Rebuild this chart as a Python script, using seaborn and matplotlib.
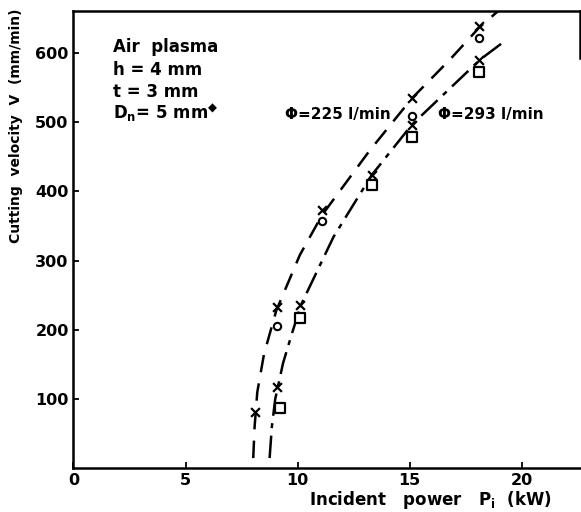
import matplotlib
matplotlib.use("Agg")
import matplotlib.pyplot as plt
import seaborn as sns
import pandas as pd

# Measured points, flow rate 225 l/min
p225_cross = [8.1, 9.1, 11.1, 15.1, 18.1]
v225_cross = [82, 233, 373, 535, 638]
p225_circle = [9.1, 11.1, 15.1, 18.1]
v225_circle = [205, 357, 509, 621]

# Measured points, flow rate 293 l/min
p293_cross = [9.1, 10.1, 13.3, 15.1, 18.1]
v293_cross = [118, 236, 423, 496, 589]
p293_square = [9.2, 10.1, 13.3, 15.1, 18.1]
v293_square = [87, 217, 409, 478, 572]

# Hand-drawn trend curves
curve225_p = [8.02, 8.08, 8.2, 8.5, 9.05, 10.1, 11.1, 13.2, 15.1, 16.8, 18.1, 18.95]
curve225_v = [15, 60, 110, 165, 228, 308, 366, 458, 534, 590, 636, 660]
curve293_p = [8.75, 8.85, 9.0, 9.35, 9.75, 10.15, 11.6, 13.3, 15.1, 18.15, 19.3]
curve293_v = [15, 60, 100, 152, 195, 236, 334, 423, 496, 590, 618]

x_ticks = [0, 5, 10, 15, 20]
y_ticks = [100, 200, 300, 400, 500, 600]

sns.set_theme(style="ticks")
plt.rcParams["font.family"] = ["DejaVu Sans"]
plt.rcParams["font.weight"] = "bold"
plt.rcParams["text.color"] = "black"
plt.rcParams["axes.labelcolor"] = "black"

fig = plt.figure(figsize=(5.81, 5.12), dpi=100)
ax = fig.add_axes([0.1265, 0.085, 0.8718, 0.8936])

c225 = pd.DataFrame({"P": curve225_p, "V": curve225_v})
c293 = pd.DataFrame({"P": curve293_p, "V": curve293_v})
sns.lineplot(data=c225, x="P", y="V", sort=False, estimator=None, ax=ax,
             color="black", linewidth=1.8)
sns.lineplot(data=c293, x="P", y="V", sort=False, estimator=None, ax=ax,
             color="black", linewidth=1.8)
ax.lines[0].set_dashes([7, 4.5])
ax.lines[1].set_dashes([9, 3, 2, 3])

sns.scatterplot(x=p225_cross, y=v225_cross, marker="x", s=40, color="black",
                linewidth=1.6, ax=ax, zorder=3)
sns.scatterplot(x=p293_cross, y=v293_cross, marker="x", s=40, color="black",
                linewidth=1.6, ax=ax, zorder=3)
sns.scatterplot(x=p225_circle, y=v225_circle, marker="o", s=28, facecolor="white",
                edgecolor="black", linewidth=1.5, ax=ax, zorder=3)
sns.scatterplot(x=p293_square, y=v293_square, marker="s", s=42, facecolor="white",
                edgecolor="black", linewidth=1.6, ax=ax, zorder=3)

ax.set_xlim(0, 22.6)
ax.set_ylim(0, 660)
ax.set_xticks(x_ticks)
ax.set_yticks(y_ticks)
ax.tick_params(direction="in", length=4, width=1.3, labelsize=11.5, colors="black")
for lab in ax.get_xticklabels() + ax.get_yticklabels():
    lab.set_fontweight("bold")
for side in ["left", "bottom", "top"]:
    ax.spines[side].set_linewidth(1.8)
    ax.spines[side].set_color("black")
ax.spines["right"].set_linewidth(1.8)
ax.spines["right"].set_color("black")
ax.spines["right"].set_bounds(592, 660)

ax.set_xlabel("Incident   power   P$_\\mathregular{i}$  (kW)", fontsize=12, fontweight="bold")
ax.xaxis.set_label_coords(0.705, -0.044)
ax.set_ylabel("Cutting  velocity  V  (mm/min)", fontsize=10, fontweight="bold")
ax.yaxis.set_label_coords(-0.10, 0.749)

info = {"Air  plasma": 0.921, "h = 4 mm": 0.871, "t = 3 mm": 0.823,
        "D$_\\mathregular{n}$= 5 mm$^{\u25c6}$": 0.777}
for text, yy in info.items():
    ax.text(0.078, yy, text, transform=ax.transAxes, fontsize=12,
            fontweight="bold", va="center", ha="left")

ax.text(0.4176, 0.773, "\u03a6=225 l/min", transform=ax.transAxes, fontsize=11,
        fontweight="bold", va="center", ha="left")
ax.text(0.7197, 0.773, "\u03a6=293 l/min", transform=ax.transAxes, fontsize=11,
        fontweight="bold", va="center", ha="left")

fig.savefig("out.png", dpi=100)
